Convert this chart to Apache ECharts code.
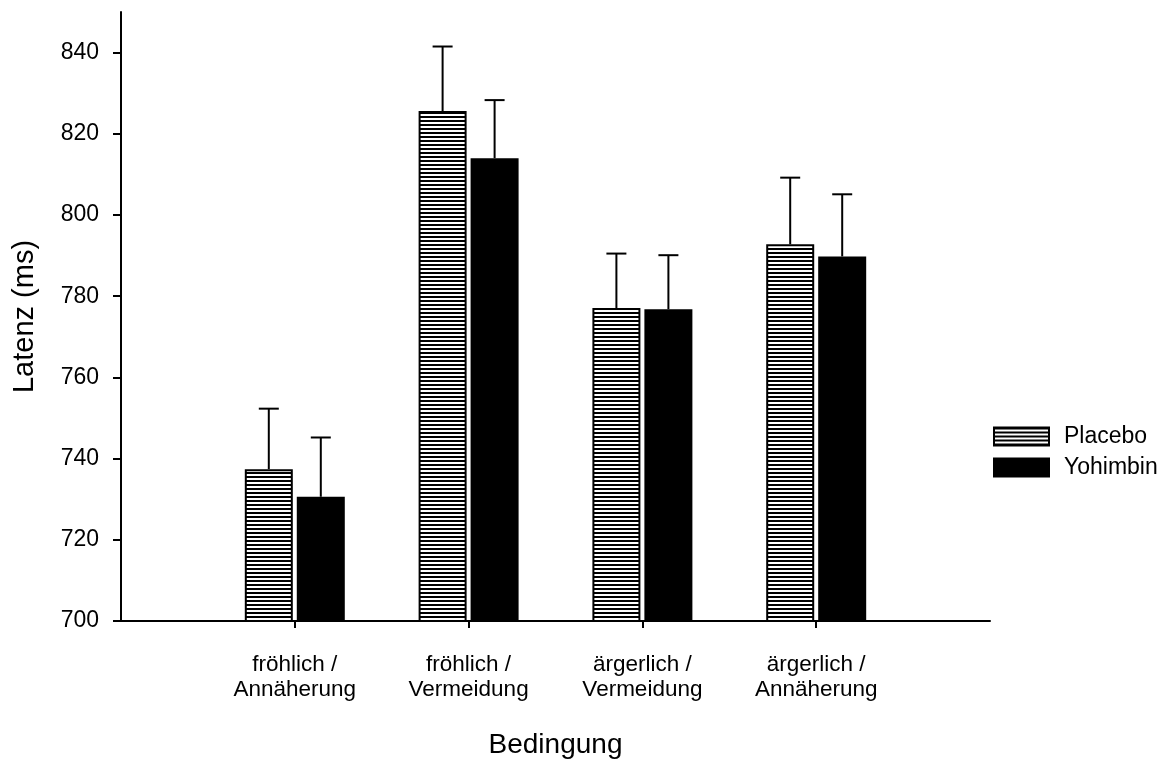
<!DOCTYPE html>
<html>
<head>
<meta charset="utf-8">
<script src="https://cdn.jsdelivr.net/npm/echarts@6/dist/echarts.min.js"></script>
<style>
html,body{margin:0;padding:0;background:#fff;overflow:hidden;}
#chart{width:1165px;height:760px;}
</style>
</head>
<body>
<div id="chart"></div>
<script>
const categories = ['fröhlich /\nAnnäherung', 'fröhlich /\nVermeidung', 'ärgerlich /\nVermeidung', 'ärgerlich /\nAnnäherung'];
const placeboMean = [737.4, 825.6, 777.1, 792.8];
const placeboErrTop = [752.3, 841.5, 790.5, 809.2];
const yohimbinMean = [730.6, 814.0, 776.8, 789.8];
const yohimbinErrTop = [745.2, 828.3, 790.1, 805.1];
const yTicks = [700, 720, 740, 760, 780, 800, 820, 840];

const FONT = '"Liberation Sans", Arial, sans-serif';
const axisCats = [''].concat(categories, ['']);

// hatch pattern
const pc = document.createElement('canvas');
pc.width = 8; pc.height = 4;
const ctx = pc.getContext('2d');
ctx.fillStyle = '#fff'; ctx.fillRect(0, 0, 8, 4);
ctx.fillStyle = '#000'; ctx.fillRect(0, 0, 8, 2);

function errSeries(name, mean, top, offset) {
  return {
    type: 'custom',
    name: name + ' err',
    z: 5,
    data: mean.map((m, i) => [i + 1, top[i], m]),
    renderItem: function (params, api) {
      const idx = api.value(0);
      const p0 = api.coord([idx, api.value(2)]);
      const p1 = api.coord([idx, api.value(1)]);
      const x = p0[0] + offset;
      const st = { stroke: '#000', lineWidth: 2 };
      return {
        type: 'group',
        children: [
          { type: 'line', shape: { x1: x, y1: p0[1], x2: x, y2: p1[1] }, style: st },
          { type: 'line', shape: { x1: x - 10, y1: p1[1], x2: x + 10, y2: p1[1] }, style: st }
        ]
      };
    }
  };
}

const chart = echarts.init(document.getElementById('chart'), null, { renderer: 'canvas', width: 1165, height: 760 });
chart.setOption({
  animation: false,
  backgroundColor: '#fff',
  textStyle: { fontFamily: FONT },
  grid: { left: 121, width: 869, top: 12, height: 609, containLabel: false, outerBoundsMode: 'none' },
  legend: {
    data: ['Placebo', 'Yohimbin'],
    orient: 'vertical',
    left: 988,
    top: 420,
    icon: 'rect',
    itemWidth: 55,
    itemHeight: 18,
    itemGap: 8,
    textStyle: { fontFamily: FONT, fontSize: 23, color: '#000', padding: [0, 0, 0, 10] }
  },
  xAxis: {
    type: 'category',
    data: axisCats,
    boundaryGap: false,
    name: 'Bedingung',
    nameLocation: 'middle',
    nameGap: 110,
    nameTextStyle: { fontFamily: FONT, fontSize: 28, color: '#000' },
    axisLine: { lineStyle: { color: '#000', width: 2 } },
    axisTick: { length: 7, lineStyle: { color: '#000', width: 2 }, interval: (i) => i > 0 && i < axisCats.length - 1 },
    axisLabel: { interval: 0, margin: 31, fontFamily: FONT, fontSize: 22.5, lineHeight: 25, color: '#000' },
    splitLine: { show: false }
  },
  yAxis: {
    type: 'value',
    min: 700,
    max: 850,
    interval: 20,
    name: 'Latenz (ms)',
    nameLocation: 'middle',
    nameGap: 82,
    nameTextStyle: { fontFamily: FONT, fontSize: 29, color: '#000' },
    axisLine: { show: true, lineStyle: { color: '#000', width: 2 } },
    axisTick: { show: true, length: 8, lineStyle: { color: '#000', width: 2 }, customValues: yTicks },
    axisLabel: { margin: 22, fontFamily: FONT, fontSize: 23, color: '#000', customValues: yTicks },
    splitLine: { show: false }
  },
  series: [
    {
      type: 'bar',
      name: 'Placebo',
      barWidth: 48,
      barGap: '8.3%',
      data: placeboMean.map((v, i) => [i + 1, v]),
      itemStyle: { color: { image: pc, repeat: 'repeat' }, borderColor: '#000', borderWidth: 2 }
    },
    {
      type: 'bar',
      name: 'Yohimbin',
      barWidth: 48,
      barGap: '8.3%',
      data: yohimbinMean.map((v, i) => [i + 1, v]),
      itemStyle: { color: '#000', borderColor: '#000', borderWidth: 2 }
    },
    errSeries('Placebo', placeboMean, placeboErrTop, -26),
    errSeries('Yohimbin', yohimbinMean, yohimbinErrTop, 26)
  ]
});
</script>
</body>
</html>
